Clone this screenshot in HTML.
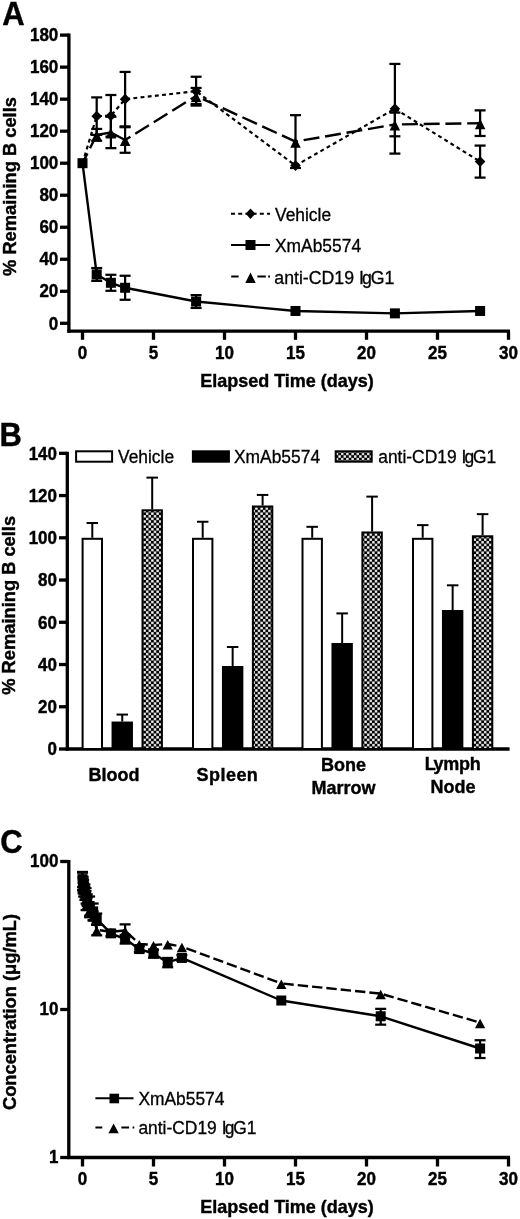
<!DOCTYPE html>
<html lang="en">
<head>
<meta charset="utf-8">
<title>Figure</title>
<style>html,body{margin:0;padding:0;background:#fff}svg{display:block;filter:blur(0.45px)}text{font-kerning:normal}</style>
</head>
<body>
<svg width="520" height="1219" viewBox="0 0 520 1219" font-family='"Liberation Sans", sans-serif' fill="#000">
<defs>
<pattern id="chk" width="5.2" height="5.2" patternUnits="userSpaceOnUse" x="0.3" y="0.2"><rect width="5.2" height="5.2" fill="#fff"/><rect x="-0.12" y="-0.12" width="2.85" height="2.85" fill="#000"/><rect x="2.48" y="2.48" width="2.85" height="2.85" fill="#000"/><rect x="5.08" y="-0.12" width="2.85" height="2.85" fill="#000"/><rect x="-0.12" y="5.08" width="2.85" height="2.85" fill="#000"/><rect x="5.08" y="5.08" width="2.85" height="2.85" fill="#000"/><rect x="-2.73" y="2.48" width="2.85" height="2.85" fill="#000"/><rect x="2.48" y="-2.73" width="2.85" height="2.85" fill="#000"/></pattern>
</defs>
<rect width="520" height="1219" fill="#fff"/>
<text transform="translate(2.3 25.4) scale(1 1.045)" font-size="31" font-weight="bold" text-anchor="start" stroke="#000" stroke-width="0.4">A</text>
<line x1="68.9" y1="33.62" x2="68.9" y2="332.7" stroke="#000" stroke-width="3.3" stroke-linecap="butt"/>
<line x1="67.4" y1="331.2" x2="510" y2="331.2" stroke="#000" stroke-width="3.3" stroke-linecap="butt"/>
<line x1="60" y1="323.3" x2="68.9" y2="323.3" stroke="#000" stroke-width="3.3" stroke-linecap="butt"/>
<text transform="translate(58.3 329.5) scale(1 1.045)" font-size="17" font-weight="bold" text-anchor="end" stroke="#000" stroke-width="0.4">0</text>
<line x1="60" y1="291.28" x2="68.9" y2="291.28" stroke="#000" stroke-width="3.3" stroke-linecap="butt"/>
<text transform="translate(58.3 297.48) scale(1 1.045)" font-size="17" font-weight="bold" text-anchor="end" stroke="#000" stroke-width="0.4">20</text>
<line x1="60" y1="259.26" x2="68.9" y2="259.26" stroke="#000" stroke-width="3.3" stroke-linecap="butt"/>
<text transform="translate(58.3 265.46) scale(1 1.045)" font-size="17" font-weight="bold" text-anchor="end" stroke="#000" stroke-width="0.4">40</text>
<line x1="60" y1="227.24" x2="68.9" y2="227.24" stroke="#000" stroke-width="3.3" stroke-linecap="butt"/>
<text transform="translate(58.3 233.44) scale(1 1.045)" font-size="17" font-weight="bold" text-anchor="end" stroke="#000" stroke-width="0.4">60</text>
<line x1="60" y1="195.22" x2="68.9" y2="195.22" stroke="#000" stroke-width="3.3" stroke-linecap="butt"/>
<text transform="translate(58.3 201.42) scale(1 1.045)" font-size="17" font-weight="bold" text-anchor="end" stroke="#000" stroke-width="0.4">80</text>
<line x1="60" y1="163.2" x2="68.9" y2="163.2" stroke="#000" stroke-width="3.3" stroke-linecap="butt"/>
<text transform="translate(58.3 169.4) scale(1 1.045)" font-size="17" font-weight="bold" text-anchor="end" stroke="#000" stroke-width="0.4">100</text>
<line x1="60" y1="131.18" x2="68.9" y2="131.18" stroke="#000" stroke-width="3.3" stroke-linecap="butt"/>
<text transform="translate(58.3 137.38) scale(1 1.045)" font-size="17" font-weight="bold" text-anchor="end" stroke="#000" stroke-width="0.4">120</text>
<line x1="60" y1="99.16" x2="68.9" y2="99.16" stroke="#000" stroke-width="3.3" stroke-linecap="butt"/>
<text transform="translate(58.3 105.36) scale(1 1.045)" font-size="17" font-weight="bold" text-anchor="end" stroke="#000" stroke-width="0.4">140</text>
<line x1="60" y1="67.14" x2="68.9" y2="67.14" stroke="#000" stroke-width="3.3" stroke-linecap="butt"/>
<text transform="translate(58.3 73.34) scale(1 1.045)" font-size="17" font-weight="bold" text-anchor="end" stroke="#000" stroke-width="0.4">160</text>
<line x1="60" y1="35.12" x2="68.9" y2="35.12" stroke="#000" stroke-width="3.3" stroke-linecap="butt"/>
<text transform="translate(58.3 41.32) scale(1 1.045)" font-size="17" font-weight="bold" text-anchor="end" stroke="#000" stroke-width="0.4">180</text>
<line x1="82.5" y1="331.2" x2="82.5" y2="339.8" stroke="#000" stroke-width="3.3" stroke-linecap="butt"/>
<text transform="translate(82.5 358.5) scale(1 1.045)" font-size="17" font-weight="bold" text-anchor="middle" stroke="#000" stroke-width="0.4">0</text>
<line x1="153.5" y1="331.2" x2="153.5" y2="339.8" stroke="#000" stroke-width="3.3" stroke-linecap="butt"/>
<text transform="translate(153.5 358.5) scale(1 1.045)" font-size="17" font-weight="bold" text-anchor="middle" stroke="#000" stroke-width="0.4">5</text>
<line x1="224.5" y1="331.2" x2="224.5" y2="339.8" stroke="#000" stroke-width="3.3" stroke-linecap="butt"/>
<text transform="translate(224.5 358.5) scale(1 1.045)" font-size="17" font-weight="bold" text-anchor="middle" stroke="#000" stroke-width="0.4">10</text>
<line x1="295.5" y1="331.2" x2="295.5" y2="339.8" stroke="#000" stroke-width="3.3" stroke-linecap="butt"/>
<text transform="translate(295.5 358.5) scale(1 1.045)" font-size="17" font-weight="bold" text-anchor="middle" stroke="#000" stroke-width="0.4">15</text>
<line x1="366.5" y1="331.2" x2="366.5" y2="339.8" stroke="#000" stroke-width="3.3" stroke-linecap="butt"/>
<text transform="translate(366.5 358.5) scale(1 1.045)" font-size="17" font-weight="bold" text-anchor="middle" stroke="#000" stroke-width="0.4">20</text>
<line x1="437.5" y1="331.2" x2="437.5" y2="339.8" stroke="#000" stroke-width="3.3" stroke-linecap="butt"/>
<text transform="translate(437.5 358.5) scale(1 1.045)" font-size="17" font-weight="bold" text-anchor="middle" stroke="#000" stroke-width="0.4">25</text>
<line x1="508.5" y1="331.2" x2="508.5" y2="339.8" stroke="#000" stroke-width="3.3" stroke-linecap="butt"/>
<text transform="translate(508.5 358.5) scale(1 1.045)" font-size="17" font-weight="bold" text-anchor="middle" stroke="#000" stroke-width="0.4">30</text>
<text transform="translate(287 386.6) scale(1 1.03)" font-size="18" font-weight="bold" text-anchor="middle" stroke="#000" stroke-width="0.4">Elapsed Time (days)</text>
<text transform="translate(15.5 186.5) rotate(-90) scale(1 1.03)" font-size="18.3" font-weight="bold" text-anchor="middle" stroke="#000" stroke-width="0.4">% Remaining B cells</text>
<polyline points="82.5,163.2 96.7,116.13 110.9,115.81 125.1,99.16 196.1,91.16 295.5,165.6 394.9,108.77 480.1,161.6" fill="none" stroke="#000" stroke-width="2.15" stroke-linejoin="round" stroke-dasharray="3.9 3.3"/>
<line x1="82.5" y1="163.2" x2="96.7" y2="134.86" stroke="#000" stroke-width="2.4" stroke-dasharray="16 5.75" stroke-dashoffset="5"/>
<polyline points="96.7,134.86 110.9,132.46 125.1,139.99" fill="none" stroke="#000" stroke-width="2.4" stroke-linejoin="round"/>
<line x1="125.1" y1="139.99" x2="196.1" y2="95.96" stroke="#000" stroke-width="2.4" stroke-dasharray="16 5.75" stroke-dashoffset="9.75"/>
<line x1="196.1" y1="95.96" x2="295.5" y2="141.59" stroke="#000" stroke-width="2.4" stroke-dasharray="16 5.75" stroke-dashoffset="14.25"/>
<line x1="295.5" y1="141.59" x2="394.9" y2="124.46" stroke="#000" stroke-width="2.4" stroke-dasharray="16 5.75" stroke-dashoffset="13.5"/>
<line x1="394.9" y1="124.46" x2="480.1" y2="123.18" stroke="#000" stroke-width="2.4" stroke-dasharray="16 5.75" stroke-dashoffset="14.75"/>
<polyline points="82.5,163.2 96.7,274.47 110.9,282.79 125.1,287.76 196.1,301.53 295.5,310.97 394.9,313.37 480.1,310.97" fill="none" stroke="#000" stroke-width="2.4" stroke-linejoin="round"/>
<line x1="96.7" y1="97.4" x2="96.7" y2="134.86" stroke="#000" stroke-width="2.25" stroke-linecap="butt"/>
<line x1="91.2" y1="97.4" x2="102.2" y2="97.4" stroke="#000" stroke-width="2.25" stroke-linecap="butt"/>
<line x1="91.2" y1="134.86" x2="102.2" y2="134.86" stroke="#000" stroke-width="2.25" stroke-linecap="butt"/>
<line x1="110.9" y1="95" x2="110.9" y2="136.62" stroke="#000" stroke-width="2.25" stroke-linecap="butt"/>
<line x1="105.4" y1="95" x2="116.4" y2="95" stroke="#000" stroke-width="2.25" stroke-linecap="butt"/>
<line x1="105.4" y1="136.62" x2="116.4" y2="136.62" stroke="#000" stroke-width="2.25" stroke-linecap="butt"/>
<line x1="125.1" y1="71.94" x2="125.1" y2="126.38" stroke="#000" stroke-width="2.25" stroke-linecap="butt"/>
<line x1="119.6" y1="71.94" x2="130.6" y2="71.94" stroke="#000" stroke-width="2.25" stroke-linecap="butt"/>
<line x1="119.6" y1="126.38" x2="130.6" y2="126.38" stroke="#000" stroke-width="2.25" stroke-linecap="butt"/>
<line x1="196.1" y1="76.75" x2="196.1" y2="105.56" stroke="#000" stroke-width="2.25" stroke-linecap="butt"/>
<line x1="190.6" y1="76.75" x2="201.6" y2="76.75" stroke="#000" stroke-width="2.25" stroke-linecap="butt"/>
<line x1="190.6" y1="105.56" x2="201.6" y2="105.56" stroke="#000" stroke-width="2.25" stroke-linecap="butt"/>
<line x1="394.9" y1="63.94" x2="394.9" y2="153.59" stroke="#000" stroke-width="2.25" stroke-linecap="butt"/>
<line x1="389.4" y1="63.94" x2="400.4" y2="63.94" stroke="#000" stroke-width="2.25" stroke-linecap="butt"/>
<line x1="389.4" y1="153.59" x2="400.4" y2="153.59" stroke="#000" stroke-width="2.25" stroke-linecap="butt"/>
<line x1="480.1" y1="145.59" x2="480.1" y2="177.61" stroke="#000" stroke-width="2.25" stroke-linecap="butt"/>
<line x1="474.6" y1="145.59" x2="485.6" y2="145.59" stroke="#000" stroke-width="2.25" stroke-linecap="butt"/>
<line x1="474.6" y1="177.61" x2="485.6" y2="177.61" stroke="#000" stroke-width="2.25" stroke-linecap="butt"/>
<line x1="96.7" y1="128.94" x2="96.7" y2="140.79" stroke="#000" stroke-width="2.25" stroke-linecap="butt"/>
<line x1="91.2" y1="128.94" x2="102.2" y2="128.94" stroke="#000" stroke-width="2.25" stroke-linecap="butt"/>
<line x1="91.2" y1="140.79" x2="102.2" y2="140.79" stroke="#000" stroke-width="2.25" stroke-linecap="butt"/>
<line x1="110.9" y1="116.77" x2="110.9" y2="148.15" stroke="#000" stroke-width="2.25" stroke-linecap="butt"/>
<line x1="105.4" y1="116.77" x2="116.4" y2="116.77" stroke="#000" stroke-width="2.25" stroke-linecap="butt"/>
<line x1="105.4" y1="148.15" x2="116.4" y2="148.15" stroke="#000" stroke-width="2.25" stroke-linecap="butt"/>
<line x1="125.1" y1="127.18" x2="125.1" y2="152.79" stroke="#000" stroke-width="2.25" stroke-linecap="butt"/>
<line x1="119.6" y1="127.18" x2="130.6" y2="127.18" stroke="#000" stroke-width="2.25" stroke-linecap="butt"/>
<line x1="119.6" y1="152.79" x2="130.6" y2="152.79" stroke="#000" stroke-width="2.25" stroke-linecap="butt"/>
<line x1="196.1" y1="87.95" x2="196.1" y2="103.96" stroke="#000" stroke-width="2.25" stroke-linecap="butt"/>
<line x1="190.6" y1="87.95" x2="201.6" y2="87.95" stroke="#000" stroke-width="2.25" stroke-linecap="butt"/>
<line x1="190.6" y1="103.96" x2="201.6" y2="103.96" stroke="#000" stroke-width="2.25" stroke-linecap="butt"/>
<line x1="295.5" y1="115.17" x2="295.5" y2="168" stroke="#000" stroke-width="2.25" stroke-linecap="butt"/>
<line x1="290" y1="115.17" x2="301" y2="115.17" stroke="#000" stroke-width="2.25" stroke-linecap="butt"/>
<line x1="290" y1="168" x2="301" y2="168" stroke="#000" stroke-width="2.25" stroke-linecap="butt"/>
<line x1="394.9" y1="112.61" x2="394.9" y2="136.3" stroke="#000" stroke-width="2.25" stroke-linecap="butt"/>
<line x1="389.4" y1="112.61" x2="400.4" y2="112.61" stroke="#000" stroke-width="2.25" stroke-linecap="butt"/>
<line x1="389.4" y1="136.3" x2="400.4" y2="136.3" stroke="#000" stroke-width="2.25" stroke-linecap="butt"/>
<line x1="480.1" y1="110.37" x2="480.1" y2="135.98" stroke="#000" stroke-width="2.25" stroke-linecap="butt"/>
<line x1="474.6" y1="110.37" x2="485.6" y2="110.37" stroke="#000" stroke-width="2.25" stroke-linecap="butt"/>
<line x1="474.6" y1="135.98" x2="485.6" y2="135.98" stroke="#000" stroke-width="2.25" stroke-linecap="butt"/>
<line x1="96.7" y1="268.07" x2="96.7" y2="280.87" stroke="#000" stroke-width="2.25" stroke-linecap="butt"/>
<line x1="91.2" y1="268.07" x2="102.2" y2="268.07" stroke="#000" stroke-width="2.25" stroke-linecap="butt"/>
<line x1="91.2" y1="280.87" x2="102.2" y2="280.87" stroke="#000" stroke-width="2.25" stroke-linecap="butt"/>
<line x1="110.9" y1="274.79" x2="110.9" y2="290.8" stroke="#000" stroke-width="2.25" stroke-linecap="butt"/>
<line x1="105.4" y1="274.79" x2="116.4" y2="274.79" stroke="#000" stroke-width="2.25" stroke-linecap="butt"/>
<line x1="105.4" y1="290.8" x2="116.4" y2="290.8" stroke="#000" stroke-width="2.25" stroke-linecap="butt"/>
<line x1="125.1" y1="275.75" x2="125.1" y2="299.77" stroke="#000" stroke-width="2.25" stroke-linecap="butt"/>
<line x1="119.6" y1="275.75" x2="130.6" y2="275.75" stroke="#000" stroke-width="2.25" stroke-linecap="butt"/>
<line x1="119.6" y1="299.77" x2="130.6" y2="299.77" stroke="#000" stroke-width="2.25" stroke-linecap="butt"/>
<line x1="196.1" y1="295.12" x2="196.1" y2="307.93" stroke="#000" stroke-width="2.25" stroke-linecap="butt"/>
<line x1="190.6" y1="295.12" x2="201.6" y2="295.12" stroke="#000" stroke-width="2.25" stroke-linecap="butt"/>
<line x1="190.6" y1="307.93" x2="201.6" y2="307.93" stroke="#000" stroke-width="2.25" stroke-linecap="butt"/>
<polygon points="96.7,110.83 102,116.13 96.7,121.43 91.4,116.13" fill="#000"/>
<polygon points="110.9,110.51 116.2,115.81 110.9,121.11 105.6,115.81" fill="#000"/>
<polygon points="125.1,93.86 130.4,99.16 125.1,104.46 119.8,99.16" fill="#000"/>
<polygon points="196.1,85.86 201.4,91.16 196.1,96.45 190.8,91.16" fill="#000"/>
<polygon points="295.5,160.3 300.8,165.6 295.5,170.9 290.2,165.6" fill="#000"/>
<polygon points="394.9,103.47 400.2,108.77 394.9,114.07 389.6,108.77" fill="#000"/>
<polygon points="480.1,156.3 485.4,161.6 480.1,166.9 474.8,161.6" fill="#000"/>
<polygon points="96.7,130.45 101.95,140.95 91.45,140.95" fill="#000"/>
<polygon points="110.9,128.05 116.15,138.55 105.65,138.55" fill="#000"/>
<polygon points="125.1,135.58 130.35,146.08 119.85,146.08" fill="#000"/>
<polygon points="196.1,91.55 201.35,102.05 190.85,102.05" fill="#000"/>
<polygon points="295.5,137.18 300.75,147.68 290.25,147.68" fill="#000"/>
<polygon points="394.9,120.05 400.15,130.55 389.65,130.55" fill="#000"/>
<polygon points="480.1,118.77 485.35,129.27 474.85,129.27" fill="#000"/>
<rect x="77.5" y="158.2" width="10" height="10" fill="#000"/>
<rect x="91.7" y="269.47" width="10" height="10" fill="#000"/>
<rect x="105.9" y="277.79" width="10" height="10" fill="#000"/>
<rect x="120.1" y="282.76" width="10" height="10" fill="#000"/>
<rect x="191.1" y="296.53" width="10" height="10" fill="#000"/>
<rect x="290.5" y="305.97" width="10" height="10" fill="#000"/>
<rect x="389.9" y="308.37" width="10" height="10" fill="#000"/>
<rect x="475.1" y="305.97" width="10" height="10" fill="#000"/>
<line x1="231" y1="213.7" x2="270" y2="213.7" stroke="#000" stroke-width="2.1" stroke-linecap="butt" stroke-dasharray="4 3.2"/>
<polygon points="250.5,208.5 255.3,213.7 250.5,218.9 245.7,213.7" fill="#000"/>
<text transform="translate(275 220.5) scale(1 1.03)" font-size="17.4" font-weight="normal" text-anchor="start" stroke="#000" stroke-width="0.3">Vehicle</text>
<line x1="231" y1="245" x2="270" y2="245" stroke="#000" stroke-width="2" stroke-linecap="butt"/>
<rect x="245.5" y="240" width="10" height="10" fill="#000"/>
<text transform="translate(275 252.4) scale(1 1.03)" font-size="17.4" font-weight="normal" text-anchor="start" stroke="#000" stroke-width="0.3">XmAb5574</text>
<line x1="231.2" y1="276.5" x2="238.6" y2="276.5" stroke="#000" stroke-width="2" stroke-linecap="butt"/>
<line x1="257.4" y1="276.5" x2="265.8" y2="276.5" stroke="#000" stroke-width="2" stroke-linecap="butt"/>
<line x1="268.2" y1="276.5" x2="270" y2="276.5" stroke="#000" stroke-width="2" stroke-linecap="butt"/>
<polygon points="250.5,272.39 255.75,282.89 245.25,282.89" fill="#000"/>
<text transform="translate(274.3 283.6) scale(1 1.03)" font-size="17.7" font-weight="normal" text-anchor="start" stroke="#000" stroke-width="0.3" dx="0 0 0 0 0 0 0 0 0 0 0 -1.8 -1.2 0">anti-CD19 IgG1</text>
<text transform="translate(-0.5 446) scale(1 1.045)" font-size="31" font-weight="bold" text-anchor="start" stroke="#000" stroke-width="0.4">B</text>
<line x1="67.3" y1="451.82" x2="67.3" y2="750.5" stroke="#000" stroke-width="3.3" stroke-linecap="butt"/>
<line x1="65.8" y1="749" x2="509.6" y2="749" stroke="#000" stroke-width="3.3" stroke-linecap="butt"/>
<line x1="59" y1="749" x2="67.3" y2="749" stroke="#000" stroke-width="3.3" stroke-linecap="butt"/>
<text transform="translate(57 755.3) scale(1 1.045)" font-size="17" font-weight="bold" text-anchor="end" stroke="#000" stroke-width="0.4">0</text>
<line x1="59" y1="706.76" x2="67.3" y2="706.76" stroke="#000" stroke-width="3.3" stroke-linecap="butt"/>
<text transform="translate(57 713.06) scale(1 1.045)" font-size="17" font-weight="bold" text-anchor="end" stroke="#000" stroke-width="0.4">20</text>
<line x1="59" y1="664.52" x2="67.3" y2="664.52" stroke="#000" stroke-width="3.3" stroke-linecap="butt"/>
<text transform="translate(57 670.82) scale(1 1.045)" font-size="17" font-weight="bold" text-anchor="end" stroke="#000" stroke-width="0.4">40</text>
<line x1="59" y1="622.28" x2="67.3" y2="622.28" stroke="#000" stroke-width="3.3" stroke-linecap="butt"/>
<text transform="translate(57 628.58) scale(1 1.045)" font-size="17" font-weight="bold" text-anchor="end" stroke="#000" stroke-width="0.4">60</text>
<line x1="59" y1="580.04" x2="67.3" y2="580.04" stroke="#000" stroke-width="3.3" stroke-linecap="butt"/>
<text transform="translate(57 586.34) scale(1 1.045)" font-size="17" font-weight="bold" text-anchor="end" stroke="#000" stroke-width="0.4">80</text>
<line x1="59" y1="537.8" x2="67.3" y2="537.8" stroke="#000" stroke-width="3.3" stroke-linecap="butt"/>
<text transform="translate(57 544.1) scale(1 1.045)" font-size="17" font-weight="bold" text-anchor="end" stroke="#000" stroke-width="0.4">100</text>
<line x1="59" y1="495.56" x2="67.3" y2="495.56" stroke="#000" stroke-width="3.3" stroke-linecap="butt"/>
<text transform="translate(57 501.86) scale(1 1.045)" font-size="17" font-weight="bold" text-anchor="end" stroke="#000" stroke-width="0.4">120</text>
<line x1="59" y1="453.32" x2="67.3" y2="453.32" stroke="#000" stroke-width="3.3" stroke-linecap="butt"/>
<text transform="translate(57 459.62) scale(1 1.045)" font-size="17" font-weight="bold" text-anchor="end" stroke="#000" stroke-width="0.4">140</text>
<text transform="translate(15.1 605.3) rotate(-90) scale(1 1.03)" font-size="18.3" font-weight="bold" text-anchor="middle" stroke="#000" stroke-width="0.4">% Remaining B cells</text>
<line x1="92.3" y1="523.02" x2="92.3" y2="537.8" stroke="#000" stroke-width="2" stroke-linecap="butt"/>
<line x1="86.55" y1="523.02" x2="98.05" y2="523.02" stroke="#000" stroke-width="2" stroke-linecap="butt"/>
<rect x="82.6" y="538.8" width="19.4" height="210.2" fill="#fff" stroke="#000" stroke-width="2"/>
<line x1="122.25" y1="714.57" x2="122.25" y2="721.54" stroke="#000" stroke-width="2" stroke-linecap="butt"/>
<line x1="116.5" y1="714.57" x2="128" y2="714.57" stroke="#000" stroke-width="2" stroke-linecap="butt"/>
<rect x="112.55" y="722.54" width="19.4" height="26.46" fill="#000" stroke="#000" stroke-width="2"/>
<line x1="152.2" y1="477.61" x2="152.2" y2="509.29" stroke="#000" stroke-width="2" stroke-linecap="butt"/>
<line x1="146.45" y1="477.61" x2="157.95" y2="477.61" stroke="#000" stroke-width="2" stroke-linecap="butt"/>
<rect x="142.5" y="510.29" width="19.4" height="238.71" fill="url(#chk)" stroke="#000" stroke-width="2"/>
<line x1="202.7" y1="521.75" x2="202.7" y2="537.8" stroke="#000" stroke-width="2" stroke-linecap="butt"/>
<line x1="196.95" y1="521.75" x2="208.45" y2="521.75" stroke="#000" stroke-width="2" stroke-linecap="butt"/>
<rect x="193" y="538.8" width="19.4" height="210.2" fill="#fff" stroke="#000" stroke-width="2"/>
<line x1="232.65" y1="646.99" x2="232.65" y2="666" stroke="#000" stroke-width="2" stroke-linecap="butt"/>
<line x1="226.9" y1="646.99" x2="238.4" y2="646.99" stroke="#000" stroke-width="2" stroke-linecap="butt"/>
<rect x="222.95" y="667" width="19.4" height="82" fill="#000" stroke="#000" stroke-width="2"/>
<line x1="262.6" y1="494.93" x2="262.6" y2="505.49" stroke="#000" stroke-width="2" stroke-linecap="butt"/>
<line x1="256.85" y1="494.93" x2="268.35" y2="494.93" stroke="#000" stroke-width="2" stroke-linecap="butt"/>
<rect x="252.9" y="506.49" width="19.4" height="242.51" fill="url(#chk)" stroke="#000" stroke-width="2"/>
<line x1="312.2" y1="526.82" x2="312.2" y2="537.8" stroke="#000" stroke-width="2" stroke-linecap="butt"/>
<line x1="306.45" y1="526.82" x2="317.95" y2="526.82" stroke="#000" stroke-width="2" stroke-linecap="butt"/>
<rect x="302.5" y="538.8" width="19.4" height="210.2" fill="#fff" stroke="#000" stroke-width="2"/>
<line x1="342.15" y1="613.41" x2="342.15" y2="642.98" stroke="#000" stroke-width="2" stroke-linecap="butt"/>
<line x1="336.4" y1="613.41" x2="347.9" y2="613.41" stroke="#000" stroke-width="2" stroke-linecap="butt"/>
<rect x="332.45" y="643.98" width="19.4" height="105.02" fill="#000" stroke="#000" stroke-width="2"/>
<line x1="372.1" y1="496.62" x2="372.1" y2="531.46" stroke="#000" stroke-width="2" stroke-linecap="butt"/>
<line x1="366.35" y1="496.62" x2="377.85" y2="496.62" stroke="#000" stroke-width="2" stroke-linecap="butt"/>
<rect x="362.4" y="532.46" width="19.4" height="216.54" fill="url(#chk)" stroke="#000" stroke-width="2"/>
<line x1="422.7" y1="525.13" x2="422.7" y2="537.8" stroke="#000" stroke-width="2" stroke-linecap="butt"/>
<line x1="416.95" y1="525.13" x2="428.45" y2="525.13" stroke="#000" stroke-width="2" stroke-linecap="butt"/>
<rect x="413" y="538.8" width="19.4" height="210.2" fill="#fff" stroke="#000" stroke-width="2"/>
<line x1="452.65" y1="585.32" x2="452.65" y2="610.03" stroke="#000" stroke-width="2" stroke-linecap="butt"/>
<line x1="446.9" y1="585.32" x2="458.4" y2="585.32" stroke="#000" stroke-width="2" stroke-linecap="butt"/>
<rect x="442.95" y="611.03" width="19.4" height="137.97" fill="#000" stroke="#000" stroke-width="2"/>
<line x1="482.6" y1="514.15" x2="482.6" y2="535.27" stroke="#000" stroke-width="2" stroke-linecap="butt"/>
<line x1="476.85" y1="514.15" x2="488.35" y2="514.15" stroke="#000" stroke-width="2" stroke-linecap="butt"/>
<rect x="472.9" y="536.27" width="19.4" height="212.73" fill="url(#chk)" stroke="#000" stroke-width="2"/>
<text transform="translate(114 780.7) scale(1 1.03)" font-size="18" font-weight="bold" text-anchor="middle" stroke="#000" stroke-width="0.4">Blood</text>
<text transform="translate(196.6 780.7) scale(1 1.03)" font-size="18" font-weight="bold" text-anchor="start" stroke="#000" stroke-width="0.4" letter-spacing="0.45">Spleen</text>
<text transform="translate(343.5 771) scale(1 1.03)" font-size="18" font-weight="bold" text-anchor="middle" stroke="#000" stroke-width="0.4">Bone</text>
<text transform="translate(343.5 793.5) scale(1 1.03)" font-size="18" font-weight="bold" text-anchor="middle" stroke="#000" stroke-width="0.4">Marrow</text>
<text transform="translate(452.8 769.5) scale(1 1.03)" font-size="18" font-weight="bold" text-anchor="middle" stroke="#000" stroke-width="0.4" dx="0 -1.6 -0.2 -0.2 -0.2">Lymph</text>
<text transform="translate(453 793) scale(1 1.03)" font-size="18" font-weight="bold" text-anchor="middle" stroke="#000" stroke-width="0.4">Node</text>
<rect x="76.1" y="451.3" width="36" height="10.4" fill="#fff" stroke="#000" stroke-width="2"/>
<text transform="translate(118 463.3) scale(1 1.03)" font-size="17.4" font-weight="normal" text-anchor="start" stroke="#000" stroke-width="0.3">Vehicle</text>
<rect x="192.9" y="451.3" width="36" height="10.4" fill="#000" stroke="#000" stroke-width="2"/>
<text transform="translate(234 463.3) scale(1 1.03)" font-size="17.4" font-weight="normal" text-anchor="start" stroke="#000" stroke-width="0.3">XmAb5574</text>
<rect x="335.7" y="451.3" width="36" height="10.4" fill="url(#chk)" stroke="#000" stroke-width="2"/>
<text transform="translate(378.2 463.3) scale(1 1.03)" font-size="17.4" font-weight="normal" text-anchor="start" stroke="#000" stroke-width="0.3" dx="0 0 0 0 0 0 0 0 0 0 0 -1.8 -1.2 0">anti-CD19 IgG1</text>
<text transform="translate(0.3 853) scale(1 1.045)" font-size="31" font-weight="bold" text-anchor="start" stroke="#000" stroke-width="0.4">C</text>
<line x1="68.8" y1="860" x2="68.8" y2="1159" stroke="#000" stroke-width="3.3" stroke-linecap="butt"/>
<line x1="67.3" y1="1157.5" x2="510" y2="1157.5" stroke="#000" stroke-width="3.3" stroke-linecap="butt"/>
<line x1="60.2" y1="1157.5" x2="68.8" y2="1157.5" stroke="#000" stroke-width="3.3" stroke-linecap="butt"/>
<text transform="translate(58.4 1163.2) scale(1 1.045)" font-size="17" font-weight="bold" text-anchor="end" stroke="#000" stroke-width="0.4">1</text>
<line x1="60.2" y1="1009.5" x2="68.8" y2="1009.5" stroke="#000" stroke-width="3.3" stroke-linecap="butt"/>
<text transform="translate(58.4 1015.2) scale(1 1.045)" font-size="17" font-weight="bold" text-anchor="end" stroke="#000" stroke-width="0.4">10</text>
<line x1="60.2" y1="861.5" x2="68.8" y2="861.5" stroke="#000" stroke-width="3.3" stroke-linecap="butt"/>
<text transform="translate(58.4 867.2) scale(1 1.045)" font-size="17" font-weight="bold" text-anchor="end" stroke="#000" stroke-width="0.4">100</text>
<line x1="82.5" y1="1157.5" x2="82.5" y2="1166.5" stroke="#000" stroke-width="3.3" stroke-linecap="butt"/>
<text transform="translate(82.5 1185.2) scale(1 1.045)" font-size="17" font-weight="bold" text-anchor="middle" stroke="#000" stroke-width="0.4">0</text>
<line x1="153.5" y1="1157.5" x2="153.5" y2="1166.5" stroke="#000" stroke-width="3.3" stroke-linecap="butt"/>
<text transform="translate(153.5 1185.2) scale(1 1.045)" font-size="17" font-weight="bold" text-anchor="middle" stroke="#000" stroke-width="0.4">5</text>
<line x1="224.5" y1="1157.5" x2="224.5" y2="1166.5" stroke="#000" stroke-width="3.3" stroke-linecap="butt"/>
<text transform="translate(224.5 1185.2) scale(1 1.045)" font-size="17" font-weight="bold" text-anchor="middle" stroke="#000" stroke-width="0.4">10</text>
<line x1="295.5" y1="1157.5" x2="295.5" y2="1166.5" stroke="#000" stroke-width="3.3" stroke-linecap="butt"/>
<text transform="translate(295.5 1185.2) scale(1 1.045)" font-size="17" font-weight="bold" text-anchor="middle" stroke="#000" stroke-width="0.4">15</text>
<line x1="366.5" y1="1157.5" x2="366.5" y2="1166.5" stroke="#000" stroke-width="3.3" stroke-linecap="butt"/>
<text transform="translate(366.5 1185.2) scale(1 1.045)" font-size="17" font-weight="bold" text-anchor="middle" stroke="#000" stroke-width="0.4">20</text>
<line x1="437.5" y1="1157.5" x2="437.5" y2="1166.5" stroke="#000" stroke-width="3.3" stroke-linecap="butt"/>
<text transform="translate(437.5 1185.2) scale(1 1.045)" font-size="17" font-weight="bold" text-anchor="middle" stroke="#000" stroke-width="0.4">25</text>
<line x1="508.5" y1="1157.5" x2="508.5" y2="1166.5" stroke="#000" stroke-width="3.3" stroke-linecap="butt"/>
<text transform="translate(508.5 1185.2) scale(1 1.045)" font-size="17" font-weight="bold" text-anchor="middle" stroke="#000" stroke-width="0.4">30</text>
<text transform="translate(287 1212.6) scale(1 1.03)" font-size="18" font-weight="bold" text-anchor="middle" stroke="#000" stroke-width="0.4">Elapsed Time (days)</text>
<text transform="translate(16.3 1012) rotate(-90) scale(1 1.03)" font-size="18.3" font-weight="bold" text-anchor="middle" stroke="#000" stroke-width="0.4">Concentration (μg/mL)</text>
<polyline points="82.54,880.85 83.07,885.35 83.64,889.19 84.91,893.27 86.05,899.93 87.19,903.53 89.6,910.03 93.15,915.75 96.7,929.9 110.9,931.79 125.1,930.46 139.3,944.01 153.5,944.95 167.7,944.01 181.9,946.62" fill="none" stroke="#000" stroke-width="2.4" stroke-linejoin="round" stroke-dasharray="10.4 4" stroke-dashoffset="3"/>
<line x1="181.9" y1="946.62" x2="281.3" y2="983.44" stroke="#000" stroke-width="2.4" stroke-dasharray="10.4 4" stroke-dashoffset="9.6"/>
<line x1="281.3" y1="983.44" x2="380.7" y2="993.63" stroke="#000" stroke-width="2.4" stroke-dasharray="10.4 4" stroke-dashoffset="12.3"/>
<line x1="380.7" y1="993.63" x2="480.1" y2="1022.65" stroke="#000" stroke-width="2.4" stroke-dasharray="10.4 4" stroke-dashoffset="11.3"/>
<polyline points="82.54,879.14 83.07,883.51 83.64,886.29 84.91,890.19 86.05,895.41 87.19,899.93 89.6,906.05 93.15,911.41 96.7,918.81 110.9,933.35 125.1,939.1 139.3,949.08 153.5,953.5 167.7,962.43 181.9,957.95 281.3,1000.52 380.7,1016.27 480.1,1048.51" fill="none" stroke="#000" stroke-width="2.4" stroke-linejoin="round"/>
<line x1="82.54" y1="872.71" x2="82.54" y2="890.19" stroke="#000" stroke-width="2.25" stroke-linecap="butt"/>
<line x1="77.04" y1="872.71" x2="88.04" y2="872.71" stroke="#000" stroke-width="2.25" stroke-linecap="butt"/>
<line x1="77.04" y1="890.19" x2="88.04" y2="890.19" stroke="#000" stroke-width="2.25" stroke-linecap="butt"/>
<line x1="83.07" y1="878.3" x2="83.07" y2="893.27" stroke="#000" stroke-width="2.25" stroke-linecap="butt"/>
<line x1="77.57" y1="878.3" x2="88.57" y2="878.3" stroke="#000" stroke-width="2.25" stroke-linecap="butt"/>
<line x1="77.57" y1="893.27" x2="88.57" y2="893.27" stroke="#000" stroke-width="2.25" stroke-linecap="butt"/>
<line x1="83.64" y1="882.61" x2="83.64" y2="896.51" stroke="#000" stroke-width="2.25" stroke-linecap="butt"/>
<line x1="78.14" y1="882.61" x2="89.14" y2="882.61" stroke="#000" stroke-width="2.25" stroke-linecap="butt"/>
<line x1="78.14" y1="896.51" x2="89.14" y2="896.51" stroke="#000" stroke-width="2.25" stroke-linecap="butt"/>
<line x1="84.91" y1="887.24" x2="84.91" y2="899.93" stroke="#000" stroke-width="2.25" stroke-linecap="butt"/>
<line x1="79.41" y1="887.24" x2="90.41" y2="887.24" stroke="#000" stroke-width="2.25" stroke-linecap="butt"/>
<line x1="79.41" y1="899.93" x2="90.41" y2="899.93" stroke="#000" stroke-width="2.25" stroke-linecap="butt"/>
<line x1="86.05" y1="891.2" x2="86.05" y2="910.03" stroke="#000" stroke-width="2.25" stroke-linecap="butt"/>
<line x1="80.55" y1="891.2" x2="91.55" y2="891.2" stroke="#000" stroke-width="2.25" stroke-linecap="butt"/>
<line x1="80.55" y1="910.03" x2="91.55" y2="910.03" stroke="#000" stroke-width="2.25" stroke-linecap="butt"/>
<line x1="87.19" y1="897.63" x2="87.19" y2="910.03" stroke="#000" stroke-width="2.25" stroke-linecap="butt"/>
<line x1="81.69" y1="897.63" x2="92.69" y2="897.63" stroke="#000" stroke-width="2.25" stroke-linecap="butt"/>
<line x1="81.69" y1="910.03" x2="92.69" y2="910.03" stroke="#000" stroke-width="2.25" stroke-linecap="butt"/>
<line x1="89.6" y1="904.78" x2="89.6" y2="915.75" stroke="#000" stroke-width="2.25" stroke-linecap="butt"/>
<line x1="84.1" y1="904.78" x2="95.1" y2="904.78" stroke="#000" stroke-width="2.25" stroke-linecap="butt"/>
<line x1="84.1" y1="915.75" x2="95.1" y2="915.75" stroke="#000" stroke-width="2.25" stroke-linecap="butt"/>
<line x1="93.15" y1="911.41" x2="93.15" y2="920.4" stroke="#000" stroke-width="2.25" stroke-linecap="butt"/>
<line x1="87.65" y1="911.41" x2="98.65" y2="911.41" stroke="#000" stroke-width="2.25" stroke-linecap="butt"/>
<line x1="87.65" y1="920.4" x2="98.65" y2="920.4" stroke="#000" stroke-width="2.25" stroke-linecap="butt"/>
<line x1="96.7" y1="924.89" x2="96.7" y2="935.34" stroke="#000" stroke-width="2.25" stroke-linecap="butt"/>
<line x1="91.2" y1="924.89" x2="102.2" y2="924.89" stroke="#000" stroke-width="2.25" stroke-linecap="butt"/>
<line x1="91.2" y1="935.34" x2="102.2" y2="935.34" stroke="#000" stroke-width="2.25" stroke-linecap="butt"/>
<line x1="125.1" y1="924.37" x2="125.1" y2="937.19" stroke="#000" stroke-width="2.25" stroke-linecap="butt"/>
<line x1="119.6" y1="924.37" x2="130.6" y2="924.37" stroke="#000" stroke-width="2.25" stroke-linecap="butt"/>
<line x1="119.6" y1="937.19" x2="130.6" y2="937.19" stroke="#000" stroke-width="2.25" stroke-linecap="butt"/>
<line x1="82.54" y1="871.95" x2="82.54" y2="887.24" stroke="#000" stroke-width="2.25" stroke-linecap="butt"/>
<line x1="77.04" y1="871.95" x2="88.04" y2="871.95" stroke="#000" stroke-width="2.25" stroke-linecap="butt"/>
<line x1="77.04" y1="887.24" x2="88.04" y2="887.24" stroke="#000" stroke-width="2.25" stroke-linecap="butt"/>
<line x1="83.07" y1="876.65" x2="83.07" y2="891.2" stroke="#000" stroke-width="2.25" stroke-linecap="butt"/>
<line x1="77.57" y1="876.65" x2="88.57" y2="876.65" stroke="#000" stroke-width="2.25" stroke-linecap="butt"/>
<line x1="77.57" y1="891.2" x2="88.57" y2="891.2" stroke="#000" stroke-width="2.25" stroke-linecap="butt"/>
<line x1="83.64" y1="879.99" x2="83.64" y2="893.27" stroke="#000" stroke-width="2.25" stroke-linecap="butt"/>
<line x1="78.14" y1="879.99" x2="89.14" y2="879.99" stroke="#000" stroke-width="2.25" stroke-linecap="butt"/>
<line x1="78.14" y1="893.27" x2="89.14" y2="893.27" stroke="#000" stroke-width="2.25" stroke-linecap="butt"/>
<line x1="84.91" y1="884.43" x2="84.91" y2="896.51" stroke="#000" stroke-width="2.25" stroke-linecap="butt"/>
<line x1="79.41" y1="884.43" x2="90.41" y2="884.43" stroke="#000" stroke-width="2.25" stroke-linecap="butt"/>
<line x1="79.41" y1="896.51" x2="90.41" y2="896.51" stroke="#000" stroke-width="2.25" stroke-linecap="butt"/>
<line x1="86.05" y1="888.21" x2="86.05" y2="903.53" stroke="#000" stroke-width="2.25" stroke-linecap="butt"/>
<line x1="80.55" y1="888.21" x2="91.55" y2="888.21" stroke="#000" stroke-width="2.25" stroke-linecap="butt"/>
<line x1="80.55" y1="903.53" x2="91.55" y2="903.53" stroke="#000" stroke-width="2.25" stroke-linecap="butt"/>
<line x1="87.19" y1="894.33" x2="87.19" y2="906.05" stroke="#000" stroke-width="2.25" stroke-linecap="butt"/>
<line x1="81.69" y1="894.33" x2="92.69" y2="894.33" stroke="#000" stroke-width="2.25" stroke-linecap="butt"/>
<line x1="81.69" y1="906.05" x2="92.69" y2="906.05" stroke="#000" stroke-width="2.25" stroke-linecap="butt"/>
<line x1="89.6" y1="896.51" x2="89.6" y2="917.26" stroke="#000" stroke-width="2.25" stroke-linecap="butt"/>
<line x1="84.1" y1="896.51" x2="95.1" y2="896.51" stroke="#000" stroke-width="2.25" stroke-linecap="butt"/>
<line x1="84.1" y1="917.26" x2="95.1" y2="917.26" stroke="#000" stroke-width="2.25" stroke-linecap="butt"/>
<line x1="93.15" y1="903.53" x2="93.15" y2="920.4" stroke="#000" stroke-width="2.25" stroke-linecap="butt"/>
<line x1="87.65" y1="903.53" x2="98.65" y2="903.53" stroke="#000" stroke-width="2.25" stroke-linecap="butt"/>
<line x1="87.65" y1="920.4" x2="98.65" y2="920.4" stroke="#000" stroke-width="2.25" stroke-linecap="butt"/>
<line x1="96.7" y1="913.54" x2="96.7" y2="924.54" stroke="#000" stroke-width="2.25" stroke-linecap="butt"/>
<line x1="91.2" y1="913.54" x2="102.2" y2="913.54" stroke="#000" stroke-width="2.25" stroke-linecap="butt"/>
<line x1="91.2" y1="924.54" x2="102.2" y2="924.54" stroke="#000" stroke-width="2.25" stroke-linecap="butt"/>
<line x1="110.9" y1="930.46" x2="110.9" y2="936.37" stroke="#000" stroke-width="2.25" stroke-linecap="butt"/>
<line x1="105.4" y1="930.46" x2="116.4" y2="930.46" stroke="#000" stroke-width="2.25" stroke-linecap="butt"/>
<line x1="105.4" y1="936.37" x2="116.4" y2="936.37" stroke="#000" stroke-width="2.25" stroke-linecap="butt"/>
<line x1="125.1" y1="934.94" x2="125.1" y2="943.55" stroke="#000" stroke-width="2.25" stroke-linecap="butt"/>
<line x1="119.6" y1="934.94" x2="130.6" y2="934.94" stroke="#000" stroke-width="2.25" stroke-linecap="butt"/>
<line x1="119.6" y1="943.55" x2="130.6" y2="943.55" stroke="#000" stroke-width="2.25" stroke-linecap="butt"/>
<line x1="139.3" y1="946.14" x2="139.3" y2="952.17" stroke="#000" stroke-width="2.25" stroke-linecap="butt"/>
<line x1="133.8" y1="946.14" x2="144.8" y2="946.14" stroke="#000" stroke-width="2.25" stroke-linecap="butt"/>
<line x1="133.8" y1="952.17" x2="144.8" y2="952.17" stroke="#000" stroke-width="2.25" stroke-linecap="butt"/>
<line x1="153.5" y1="949.58" x2="153.5" y2="957.66" stroke="#000" stroke-width="2.25" stroke-linecap="butt"/>
<line x1="148" y1="949.58" x2="159" y2="949.58" stroke="#000" stroke-width="2.25" stroke-linecap="butt"/>
<line x1="148" y1="957.66" x2="159" y2="957.66" stroke="#000" stroke-width="2.25" stroke-linecap="butt"/>
<line x1="167.7" y1="957.95" x2="167.7" y2="967.24" stroke="#000" stroke-width="2.25" stroke-linecap="butt"/>
<line x1="162.2" y1="957.95" x2="173.2" y2="957.95" stroke="#000" stroke-width="2.25" stroke-linecap="butt"/>
<line x1="162.2" y1="967.24" x2="173.2" y2="967.24" stroke="#000" stroke-width="2.25" stroke-linecap="butt"/>
<line x1="181.9" y1="955.13" x2="181.9" y2="960.9" stroke="#000" stroke-width="2.25" stroke-linecap="butt"/>
<line x1="176.4" y1="955.13" x2="187.4" y2="955.13" stroke="#000" stroke-width="2.25" stroke-linecap="butt"/>
<line x1="176.4" y1="960.9" x2="187.4" y2="960.9" stroke="#000" stroke-width="2.25" stroke-linecap="butt"/>
<line x1="380.7" y1="1008.86" x2="380.7" y2="1024.65" stroke="#000" stroke-width="2.25" stroke-linecap="butt"/>
<line x1="375.2" y1="1008.86" x2="386.2" y2="1008.86" stroke="#000" stroke-width="2.25" stroke-linecap="butt"/>
<line x1="375.2" y1="1024.65" x2="386.2" y2="1024.65" stroke="#000" stroke-width="2.25" stroke-linecap="butt"/>
<line x1="480.1" y1="1040.23" x2="480.1" y2="1058.03" stroke="#000" stroke-width="2.25" stroke-linecap="butt"/>
<line x1="474.6" y1="1040.23" x2="485.6" y2="1040.23" stroke="#000" stroke-width="2.25" stroke-linecap="butt"/>
<line x1="474.6" y1="1058.03" x2="485.6" y2="1058.03" stroke="#000" stroke-width="2.25" stroke-linecap="butt"/>
<polygon points="82.54,876.86 87.69,886.36 77.39,886.36" fill="#000"/>
<polygon points="83.07,881.36 88.22,890.86 77.92,890.86" fill="#000"/>
<polygon points="83.64,885.2 88.79,894.7 78.49,894.7" fill="#000"/>
<polygon points="84.91,889.28 90.06,898.78 79.76,898.78" fill="#000"/>
<polygon points="86.05,895.94 91.2,905.44 80.9,905.44" fill="#000"/>
<polygon points="87.19,899.54 92.34,909.04 82.04,909.04" fill="#000"/>
<polygon points="89.6,906.04 94.75,915.54 84.45,915.54" fill="#000"/>
<polygon points="93.15,911.76 98.3,921.26 88,921.26" fill="#000"/>
<polygon points="96.7,925.91 101.85,935.41 91.55,935.41" fill="#000"/>
<polygon points="110.9,927.8 116.05,937.3 105.75,937.3" fill="#000"/>
<polygon points="125.1,926.47 130.25,935.97 119.95,935.97" fill="#000"/>
<polygon points="139.3,940.02 144.45,949.52 134.15,949.52" fill="#000"/>
<polygon points="153.5,940.96 158.65,950.46 148.35,950.46" fill="#000"/>
<polygon points="167.7,940.02 172.85,949.52 162.55,949.52" fill="#000"/>
<polygon points="181.9,942.63 187.05,952.13 176.75,952.13" fill="#000"/>
<polygon points="281.3,979.45 286.45,988.95 276.15,988.95" fill="#000"/>
<polygon points="380.7,989.64 385.85,999.14 375.55,999.14" fill="#000"/>
<polygon points="480.1,1018.66 485.25,1028.16 474.95,1028.16" fill="#000"/>
<rect x="77.54" y="874.14" width="10" height="10" fill="#000"/>
<rect x="78.07" y="878.51" width="10" height="10" fill="#000"/>
<rect x="78.64" y="881.29" width="10" height="10" fill="#000"/>
<rect x="79.91" y="885.19" width="10" height="10" fill="#000"/>
<rect x="81.05" y="890.41" width="10" height="10" fill="#000"/>
<rect x="82.19" y="894.93" width="10" height="10" fill="#000"/>
<rect x="84.6" y="901.05" width="10" height="10" fill="#000"/>
<rect x="88.15" y="906.41" width="10" height="10" fill="#000"/>
<rect x="91.7" y="913.81" width="10" height="10" fill="#000"/>
<rect x="105.9" y="928.35" width="10" height="10" fill="#000"/>
<rect x="120.1" y="934.1" width="10" height="10" fill="#000"/>
<rect x="134.3" y="944.08" width="10" height="10" fill="#000"/>
<rect x="148.5" y="948.5" width="10" height="10" fill="#000"/>
<rect x="162.7" y="957.43" width="10" height="10" fill="#000"/>
<rect x="176.9" y="952.95" width="10" height="10" fill="#000"/>
<rect x="276.3" y="995.52" width="10" height="10" fill="#000"/>
<rect x="375.7" y="1011.27" width="10" height="10" fill="#000"/>
<rect x="475.1" y="1043.51" width="10" height="10" fill="#000"/>
<line x1="95.4" y1="1098.3" x2="133.5" y2="1098.3" stroke="#000" stroke-width="2" stroke-linecap="butt"/>
<rect x="109.5" y="1093.7" width="9.6" height="9.6" fill="#000"/>
<text transform="translate(138.4 1104.6) scale(1 1.03)" font-size="17.4" font-weight="normal" text-anchor="start" stroke="#000" stroke-width="0.3">XmAb5574</text>
<line x1="95.4" y1="1127.5" x2="102.3" y2="1127.5" stroke="#000" stroke-width="2" stroke-linecap="butt"/>
<line x1="121.3" y1="1127.5" x2="129.1" y2="1127.5" stroke="#000" stroke-width="2" stroke-linecap="butt"/>
<line x1="132.6" y1="1127.5" x2="134.3" y2="1127.5" stroke="#000" stroke-width="2" stroke-linecap="butt"/>
<polygon points="113.6,1123.57 118.75,1133.17 108.45,1133.17" fill="#000"/>
<text transform="translate(138.4 1133.9) scale(1 1.03)" font-size="17.4" font-weight="normal" text-anchor="start" stroke="#000" stroke-width="0.3" dx="0 0 0 0 0 0 0 0 0 0 0 -1.8 -1.2 0">anti-CD19 IgG1</text>
</svg>
</body>
</html>
